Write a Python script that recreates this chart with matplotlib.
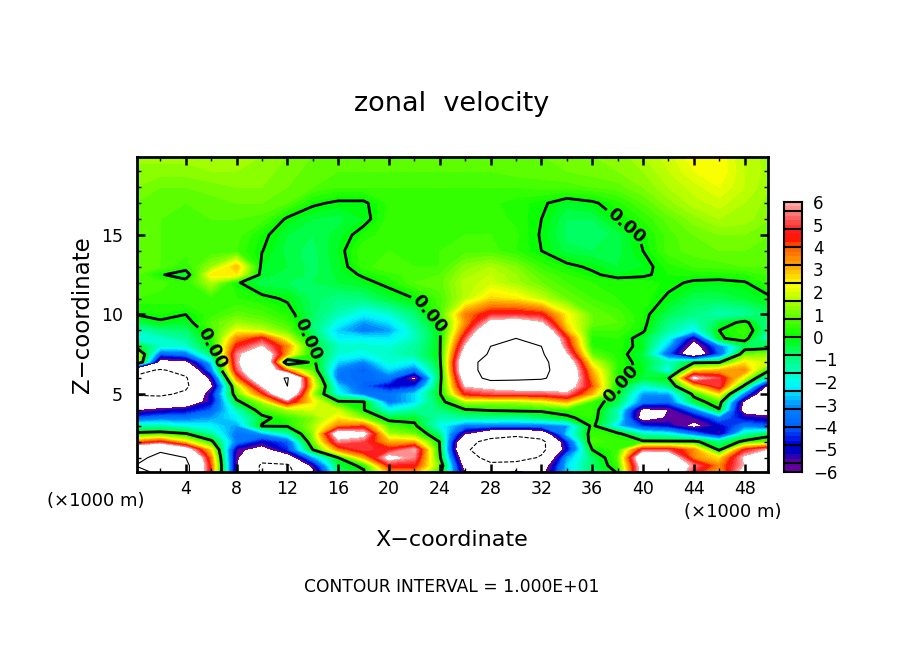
import numpy as np
import matplotlib
matplotlib.use("Agg")
import matplotlib.pyplot as plt
from matplotlib.colors import LinearSegmentedColormap

# grid, x in units of 1000 m
x_km = [0, 2, 4, 6, 8, 10, 12, 14, 16, 18, 20, 22, 24, 26, 28, 30, 32, 34, 36, 38, 40, 42, 44, 46, 48, 50]
z_km = [0, .5, 1, 1.5, 2, 2.5, 3, 3.5, 4, 4.5, 5, 5.5, 6, 6.5, 7, 7.5, 8, 8.5, 9, 9.5, 10,
        11, 12, 12.5, 13, 14, 15, 16, 17, 18, 19, 20]

u_rows = [
    [7, 11, 11, 4, -5.8, -10.5, -11, -7, -1, -.2, 3, 3, .3, -6, -7, -5, -6.5, -2.5, -.9, 0, 7, 8, 4.5, 3, 7, 8],
    [10, 12, 11, 4, -5.8, -10.5, -10.5, -5.5, -.5, .2, 4.5, 4.5, 1, -7, -9, -8, -7.5, -2.5, -.8, .5, 7, 8, 5.5, 3.5, 6, 7],
    [9, 11, 10, 3.5, -5.8, -9, -7.5, -3, 0, 3, 6.5, 5.5, .2, -8, -11.5, -12, -9.5, -3, -.8, .8, 8, 7.5, 3.5, 2.5, 6.2, 8],
    [8, 9.5, 7, 2.5, -5.5, -7, -4.5, 0, 3.5, 5, 4.5, 6, 0, -9.5, -12, -13, -11, -5, 0, .5, 5, 5, 3.5, -.2, 4.5, 6],
    [3.5, 4.5, 2.5, .3, -3.5, -5, -4, 1, 5.5, 5, 3, 3, -.05, -9, -11, -12, -11, -4.5, .7, .5, .2, .2, .3, -1, .3, 1],
    [.3, .5, .1, -1.3, -3.5, -3, -1.5, 1.3, 7, 6.5, 1.5, 1, -1, -6, -8.5, -9, -8, -2.5, .5, .3, -1.6, -2, -3.5, -5.5, -1.5, -.5],
    [-1.5, -1.5, -2, -2.2, -3, .1, .1, 1.5, 3.5, 4, .7, .2, -2, -3.5, -3.5, -3.5, -3.5, -3, .3, -2.5, -4.5, -5, -6.5, -5, -3.5, -4],
    [-4, -3.5, -3.5, -3, -2.2, -.3, .5, 1.2, 2.5, 1.2, -.4, -.3, -1.5, -1.3, -1.2, -1.3, -.8, -.2, .4, -1.5, -7, -5.8, -5.5, -3.5, -5, -5.5],
    [-6.3, -5.5, -5, -4, -1.6, .6, 1.5, 2, 1.8, .05, -2, -1.3, -.9, -.1, .1, .2, .2, .4, .5, -1.5, -6.5, -6, -3.5, -.1, -7, -8],
    [-9, -8.5, -8, -5, -.3, 1.5, 5, 2.5, .2, .1, -3.5, -2.5, -.4, 1.5, 1.5, 1.5, 2, 3, .5, -.6, -3.5, -3.8, -.5, .6, -6.5, -9],
    [-10.2, -10.5, -9.5, -5, .8, 4, 8.5, 1.5, -2, -3.5, -3.5, -2.5, -.1, 4.5, 5, 5, 5, 5.5, 3, -.1, -3, -3, .3, 2.5, -3.5, -9],
    [-10.5, -11.5, -10.5, -6.5, 1.5, 6, 10, 2.5, -2.5, -4, -5, -4.5, -.2, 6, 6.5, 7, 7, 7, 4, 0, -1.8, -1, 2.5, 5, -.3, -7],
    [-10.5, -11, -10.3, -5.5, 3.5, 8, 10.3, 2, -3.5, -3.7, -3.5, -6.5, -.4, 7, 11.5, 11, 10.5, 8, 3.5, .3, -.4, -.1, 6.2, 5, 2, -2.5],
    [-9, -10.3, -9, -3.5, 5, 9, 3.5, .7, -3.3, -4, -2.5, -3.5, -.4, 8, 12, 12.5, 11, 8, 3, .4, -.2, -2.2, 2.5, 3, 3.5, 0],
    [3, -7, -6.5, -2.5, 5.5, 9.5, -1.5, .3, -2.5, -3.2, -1.8, -2.2, -.2, 8, 12, 12.5, 11, 7.5, 2, .4, -.3, -1.5, -.2, -.1, 2.5, 1.8],
    [2.5, -4, -3.5, -.8, 5.5, 8, 3, 0, -1.8, -2, -1.6, -1.2, -.1, 7, 10.5, 11.5, 10.5, 6, .9, .3, -.5, -4, -8, -4, .9, 1.3],
    [-.1, -1.7, -1.8, 0, 4.5, 6, 3.5, -.2, -1.6, -1.7, -1.8, -1.3, -.1, 6, 10, 11, 10, 5, .4, .3, -.2, -2.8, -7, -3.5, -.7, -.5],
    [-2, -1.7, -1.2, .2, 3.5, 4.6, 2, -.5, -2.2, -2.2, -2.3, -1.6, -.1, 5, 9.5, 10, 9.5, 4.5, .3, .4, -.3, -2, -5.5, -.1, .35, -2],
    [-1.6, -1, -.8, .5, 2.2, 1.8, 1, -.8, -2.6, -3.4, -3, -1.5, -.1, 4, 8, 9, 8, 3, .6, .6, .1, -1.3, -2.2, 0, .6, -1.2],
    [-.6, -.1, -.3, .8, 1.4, 1.1, .6, -.8, -2, -3, -2.4, -1.2, .2, 3.4, 6.3, 6.8, 6, 2.5, 1, .8, .2, -1, -1.6, -.5, .25, -1.3],
    [0, .2, 0, .5, .9, .7, .3, -.7, -1.5, -2.2, -1.8, -.9, .6, 3.6, 4.7, 4.8, 4.5, 2.4, 1, .7, .2, -.6, -1, -1.5, -1.3, -.7],
    [.6, .5, .6, .5, .4, .2, -.1, -.7, -1, -.9, -.4, 0, .7, 1.7, 2.7, 2.5, 1.8, 1, .6, .4, .35, -.1, -.6, -.6, -.4, -.1],
    [.7, .7, .4, 1.6, .1, -.6, -.6, -.6, -.4, -.2, .2, .8, .9, 1.7, 1.9, 1.5, 1, .6, .4, .3, .3, .15, -.1, -.15, -.05, .5],
    [.8, .1, -.5, 2.5, 2.5, -.3, -.5, -.65, -.35, .1, .5, .7, .8, 1.5, 1.8, 1.4, .8, .4, .1, -.2, -.1, .2, .25, .25, .35, .65],
    [.9, .8, .4, 1.4, 3, -.2, -.4, -.7, -.3, .5, .8, .6, .6, 1.3, 1.6, 1.2, .5, .15, -.1, -.4, -.2, .3, .6, .7, .8, .8],
    [.9, .8, .7, .6, .6, .02, -.5, -.7, -.2, .6, .6, .6, .6, .7, .7, .4, 0, -.5, -.6, -.5, 0, .7, .9, 1, 1, .9],
    [.9, .8, .7, .7, .7, .15, -.4, -.6, -.3, .25, .55, .6, .6, .6, .6, .45, -.05, -.7, -.8, -.5, .1, .7, 1, 1.2, 1.2, 1],
    [.9, .8, .8, .8, .8, .7, -.1, -.4, -.5, -.2, .5, .5, .5, .5, .5, .35, 0, -.6, -.6, 0, .4, .9, 1.3, 1.6, 1.5, 1.2],
    [1, .9, .8, .9, 1, 1, .8, .1, -.1, -.1, .45, .45, .45, .45, .45, .3, .1, -.3, -.1, .3, .8, 1.3, 1.7, 1.9, 1.6, 1.3],
    [1.2, 1, 1, 1.1, 1.2, 1.2, 1, .8, .6, .6, .6, .6, .6, .6, .6, .6, .7, .7, .8, .9, 1.2, 1.6, 1.9, 2.2, 1.8, 1.4],
    [1.3, 1.3, 1.3, 1.4, 1.4, 1.3, 1.1, .9, .8, .8, .8, .8, .8, .8, .8, .9, .9, 1, 1.1, 1.2, 1.4, 1.8, 2.2, 2.4, 1.8, 1.5],
    [1.5, 1.5, 1.5, 1.5, 1.5, 1.4, 1.2, 1, .9, .9, .9, .9, .9, .9, .9, 1, 1, 1.1, 1.2, 1.3, 1.6, 1.9, 2.4, 2.4, 1.7, 1.5],
]
bar_ticks = [-6, -5, -4, -3, -2, -1, 0, 1, 2, 3, 4, 5, 6]
x_ticks = [4, 8, 12, 16, 20, 24, 28, 32, 36, 40, 44, 48]
z_ticks = [5, 10, 15]
label_spots = [(5.67, 7.77), (13.46, 8.4), (23, 9.9), (38.6, 15.5), (38.3, 5.57)]

W, H = 904, 654
u = np.array(u_rows)

# colour ramp, value -> rgb, picked from the colour bar
ramp = [(-6, (100, 0, 160)), (-5.6, (90, 0, 160)), (-5.2, (0, 0, 190)), (-4.8, (0, 0, 220)), (-4, (0, 100, 255)),
        (-3.2, (0, 130, 255)), (-2.4, (0, 235, 255)), (-2.0, (0, 255, 240)), (-1.6, (0, 255, 190)), (-.8, (0, 255, 110)),
        (0, (0, 255, 0)), (.8, (80, 255, 0)), (1.6, (170, 255, 0)), (2.4, (255, 255, 0)), (3.2, (255, 170, 0)),
        (4, (255, 100, 0)), (4.4, (255, 20, 0)), (4.8, (255, 30, 30)), (5.6, (255, 120, 120)), (6, (255, 165, 165))]
cmap = LinearSegmentedColormap.from_list(
    "ncl", [((v + 6) / 12, tuple(c / 255 for c in rgb)) for v, rgb in ramp], N=60)
cmap.set_over("white")
cmap.set_under("white")
levels = np.linspace(-6, 6, 61)

fig = plt.figure(figsize=(W / 100, H / 100), dpi=100)
ax = fig.add_axes([137 / W, 1 - 472 / H, (768 - 137) / W, (472 - 157) / H])

cf = ax.contourf(x_km, z_km, u, levels=levels, cmap=cmap, extend="both")
zero = ax.contour(x_km, z_km, u, levels=[0], colors="k", linewidths=2)
ax.contour(x_km, z_km, u, levels=[10], colors="k", linewidths=.8, linestyles="solid")
ax.contour(x_km, z_km, u, levels=[-10], colors="k", linewidths=.8, linestyles="dashed")
labels = ax.clabel(zero, fmt="%.2f", manual=label_spots, inline=True, fontsize=13)
for t in labels:
    t.set_fontweight("bold")

ax.set_xlim(0.16, 49.84)
ax.set_ylim(0.1, 19.9)
ax.set_xticks(x_ticks)
ax.set_xticks(np.arange(2, 50, 4), minor=True)
ax.set_yticks(z_ticks)
ax.set_yticks([z for z in range(1, 20) if z % 5], minor=True)
ax.tick_params(which="major", direction="in", top=True, right=True, length=6, width=1.8, labelsize=12.5, pad=10)
ax.tick_params(which="minor", direction="in", top=True, right=True, length=3, width=1)
ax.tick_params(axis="x", which="major", pad=6)
for s in ax.spines.values():
    s.set_linewidth(2)

# colour bar, same bands as the field with black lines every 0.8
cax = fig.add_axes([784 / W, 1 - 472 / H, 18 / W, 270 / H])
mids = (levels[:-1] + levels[1:]) / 2
cax.pcolormesh([0, 1], levels, mids[:, None], cmap=cmap, vmin=-6, vmax=6)
cax.hlines(np.arange(-5.6, 5.7, .8), 0, 1, colors="k", linewidth=1.5)
cax.set_xlim(0, 1)
cax.set_ylim(-6, 6)
cax.set_xticks([])
cax.yaxis.tick_right()
cax.set_yticks(bar_ticks)
cax.tick_params(length=0, labelsize=12, pad=8)
for s in cax.spines.values():
    s.set_linewidth(1.5)

def put(px, py, s, **kw):
    fig.text(px / W, 1 - py / H, s, ha="center", va="center", **kw)

put(452, 104, "zonal  velocity", fontsize=19.5)
put(452, 540, "X\u2212coordinate", fontsize=16)
put(83, 315, "Z\u2212coordinate", fontsize=16.5, rotation=90)
put(96, 501, "(\u00d71000 m)", fontsize=13)
put(733, 512, "(\u00d71000 m)", fontsize=13)
put(452, 587, "CONTOUR INTERVAL = 1.000E+01", fontsize=12.3)

fig.savefig("out.png", dpi=100)
